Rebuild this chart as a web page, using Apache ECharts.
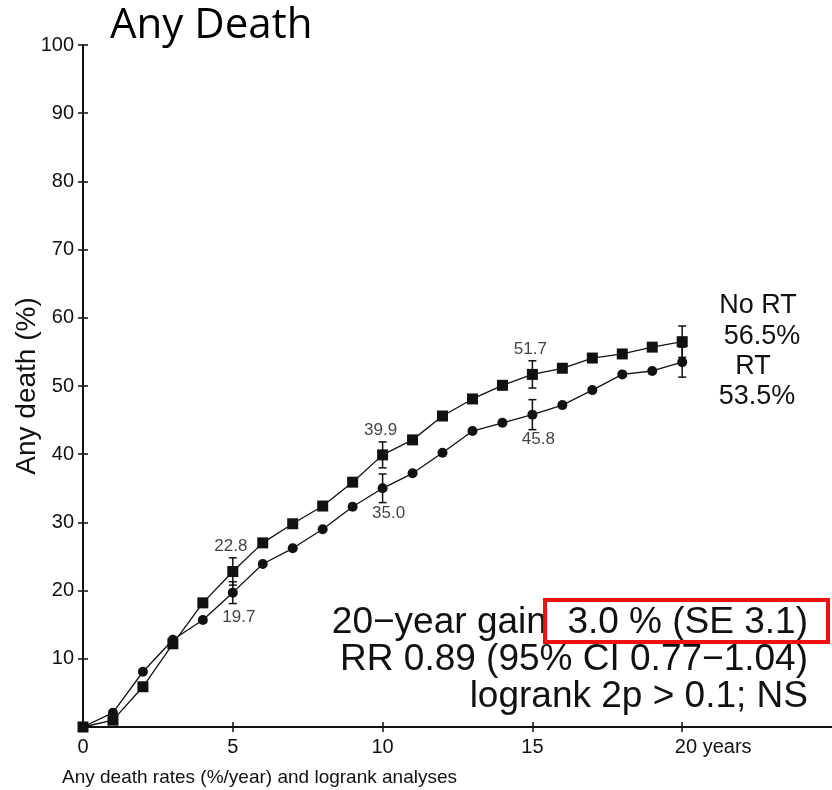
<!DOCTYPE html>
<html>
<head>
<meta charset="utf-8">
<script src="https://cdn.jsdelivr.net/npm/echarts@6/dist/echarts.min.js"></script>
<style>
html,body{margin:0;padding:0;background:#fff;}
#chart{width:832px;height:790px;}
</style>
</head>
<body>
<div id="chart"></div>
<script>
const years = [0,1,2,3,4,5,6,7,8,9,10,11,12,13,14,15,16,17,18,19,20];
const noRT = [0,1.0,5.9,12.2,18.2,22.8,27.0,29.8,32.4,35.9,39.9,42.1,45.6,48.1,50.1,51.7,52.6,54.1,54.7,55.7,56.5];
const rt   = [0,2.1,8.1,12.8,15.7,19.7,23.9,26.2,29.0,32.3,35.0,37.2,40.2,43.4,44.6,45.8,47.2,49.4,51.7,52.2,53.5];
const errYears = [5,10,15,20];
const noRTse = [2.0,1.9,2.0,2.3];
const rtSe = [1.6,2.1,2.2,2.2];
const labelYears = [5,10,15];
const xTicks = [0,5,10,15,20];
const yTicks = [10,20,30,40,50,60,70,80,90,100];
const titleText = 'Any Death';
const yName = 'Any death (%)';
const footer = 'Any death rates (%/year) and logrank analyses';
const endLabels = ['No RT','56.5%','RT','53.5%'];
const statLines = ['20\u2212year gain  3.0 % (SE 3.1)','RR 0.89 (95% CI 0.77\u22121.04)','logrank 2p > 0.1; NS'];

const FONT = '"Liberation Sans", Arial, sans-serif';
const chart = echarts.init(document.getElementById('chart'));

function errData(se, vals){
  return errYears.map((y,i)=>[y, vals[years.indexOf(y)], se[i]]);
}
function errRender(params, api){
  const x = api.value(0), y = api.value(1), e = api.value(2);
  const top = api.coord([x, y+e]);
  const bot = api.coord([x, y-e]);
  const w = 4;
  const st = {stroke:'#111', lineWidth:1.5};
  return {type:'group', children:[
    {type:'line', shape:{x1:top[0],y1:top[1],x2:bot[0],y2:bot[1]}, style:st},
    {type:'line', shape:{x1:top[0]-w,y1:top[1],x2:top[0]+w,y2:top[1]}, style:st},
    {type:'line', shape:{x1:bot[0]-w,y1:bot[1],x2:bot[0]+w,y2:bot[1]}, style:st}
  ]};
}
const lblStyle = {show:true, position:'inside', fontFamily:FONT, fontSize:17, color:'#111',
  formatter: p => p.value[1].toFixed(1)};

const option = {
  animation:false,
  backgroundColor:'#fff',
  grid:{left:83, top:45, right:0, bottom:63, outerBoundsMode:'none', containLabel:false},
  xAxis:[{
    type:'value', min:0, max:25, interval:5,
    axisLine:{show:true, lineStyle:{color:'#111', width:2}},
    axisTick:{show:true, length:5, customValues:xTicks, lineStyle:{color:'#111', width:1.5}},
    splitLine:{show:false},
    axisLabel:{fontFamily:FONT, fontSize:20, color:'#111', margin:10, customValues:xTicks,
      formatter: v => v===20 ? '{p| }20 years' : String(v),
      rich:{p:{width:62}}}
  },{
    type:'value', min:0, max:25, interval:5, position:'bottom',
    axisLine:{show:false}, axisLabel:{show:false}, splitLine:{show:false},
    axisTick:{show:true, inside:true, length:5, customValues:xTicks, lineStyle:{color:'#111', width:1.5}}
  }],
  yAxis:[{
    type:'value', min:0, max:100, interval:10,
    name: yName, nameLocation:'middle', nameGap:42, nameMoveOverlap:false,
    nameTextStyle:{fontFamily:FONT, fontSize:28, color:'#111'},
    axisLine:{show:true, lineStyle:{color:'#111', width:2}},
    axisTick:{show:true, length:5, lineStyle:{color:'#111', width:1.5}},
    splitLine:{show:false},
    axisLabel:{fontFamily:FONT, fontSize:20, color:'#111', margin:9,
      formatter: v => yTicks.indexOf(v)>=0 ? String(v) : ''}
  },{
    type:'value', min:0, max:100, interval:10, position:'left',
    axisLine:{show:false}, axisLabel:{show:false}, splitLine:{show:false},
    axisTick:{show:true, inside:true, length:5, lineStyle:{color:'#111', width:1.5}}
  }],
  series:[
    {type:'line', data: years.map((y,i)=>[y,noRT[i]]), symbol:'rect', symbolSize:11,
     lineStyle:{color:'#111', width:1.3}, itemStyle:{color:'#111'}, z:3},
    {type:'line', data: years.map((y,i)=>[y,rt[i]]), symbol:'circle', symbolSize:10,
     lineStyle:{color:'#111', width:1.3}, itemStyle:{color:'#111'}, z:3},
    {type:'custom', data: errData(noRTse, noRT), renderItem: errRender, z:4},
    {type:'custom', data: errData(rtSe, rt), renderItem: errRender, z:4},
    {type:'scatter', symbolSize:0, data: labelYears.map(y=>[y, noRT[years.indexOf(y)]]),
     label:Object.assign({}, lblStyle, {offset:[-2,-25]}), z:5},
    {type:'scatter', symbolSize:0, data: labelYears.map(y=>[y, rt[years.indexOf(y)]]),
     label:Object.assign({}, lblStyle, {offset:[6,25]}), z:5}
  ],
  graphic:[
    {type:'text', left:110, top:5, style:{text:titleText, fontFamily:'"Open Sans", sans-serif', fontSize:42, fill:'#000'}},
    {type:'text', left:62, top:768, style:{text:footer, fontFamily:FONT, fontSize:19, fill:'#111'}},
    {type:'text', x:758, y:306, style:{text:endLabels[0], fontFamily:FONT, fontSize:27, fill:'#111', textAlign:'center', textVerticalAlign:'middle'}},
    {type:'text', x:762, y:337, style:{text:endLabels[1], fontFamily:FONT, fontSize:27, fill:'#111', textAlign:'center', textVerticalAlign:'middle'}},
    {type:'text', x:753, y:367, style:{text:endLabels[2], fontFamily:FONT, fontSize:27, fill:'#111', textAlign:'center', textVerticalAlign:'middle'}},
    {type:'text', x:757, y:397, style:{text:endLabels[3], fontFamily:FONT, fontSize:27, fill:'#111', textAlign:'center', textVerticalAlign:'middle'}},
    {type:'text', x:808, y:623, style:{text:statLines[0], fontFamily:FONT, fontSize:37, fill:'#111', textAlign:'right', textVerticalAlign:'middle'}},
    {type:'text', x:808, y:660, style:{text:statLines[1], fontFamily:FONT, fontSize:37, fill:'#111', textAlign:'right', textVerticalAlign:'middle'}},
    {type:'text', x:808, y:697, style:{text:statLines[2], fontFamily:FONT, fontSize:37, fill:'#111', textAlign:'right', textVerticalAlign:'middle'}},
    {type:'rect', shape:{x:545, y:600, width:283, height:42}, style:{fill:'none', stroke:'#ee1111', lineWidth:4}, z:10}
  ]
};
chart.setOption(option);
</script>
</body>
</html>
